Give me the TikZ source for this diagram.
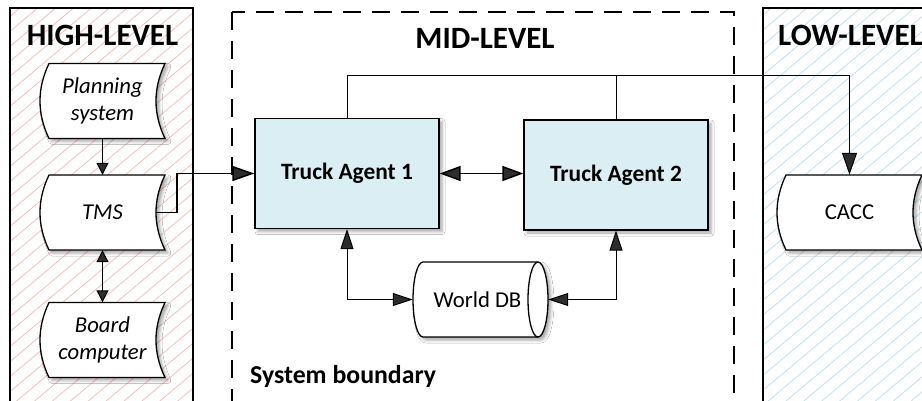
\documentclass[tikz,border=0pt]{standalone}
\usepackage{fontspec}
\setmainfont{Carlito}
\usetikzlibrary{arrows.meta,patterns.meta,shadows.blur,calc}
\definecolor{hatchred}{RGB}{242,192,192}
\definecolor{hatchblue}{RGB}{192,226,236}
\definecolor{agentfill}{RGB}{218,238,243}
% stored-data outline: centre x, centre y, half width, half height
\newcommand\sdpath[4]{%
  \draw[sdline] (#1-#3+9,#2-#4) -- (#1+#3,#2-#4)
    .. controls +(-12,25) and +(-12,-25) .. (#1+#3,#2+#4) -- (#1-#3+9,#2+#4)
    .. controls +(-12,-25) and +(-12,25) .. (#1-#3+9,#2-#4) -- cycle;}
\begin{document}
\begin{tikzpicture}[x=1pt,y=-1pt,
  sdline/.style={line width=1.3pt, fill=white,
    blur shadow={shadow xshift=3pt, shadow yshift=-3pt, shadow blur radius=3pt, shadow opacity=35}},
  sdnode/.style={minimum width=125pt, minimum height=75pt, inner sep=0pt, align=center,
    font=\fontsize{22.7}{27}\selectfont},
  agent/.style={draw, line width=1.3pt, fill=agentfill, minimum width=184pt, minimum height=110pt,
    inner sep=0pt, font=\fontsize{23.4}{28}\selectfont\bfseries,
    blur shadow={shadow xshift=3pt, shadow yshift=-3pt, shadow blur radius=3pt, shadow opacity=35}},
  heading/.style={font=\fontsize{31}{36}\selectfont\bfseries, inner sep=0pt},
  levelbox/.style={line width=1.3pt},
  hatch/.style={pattern={Lines[angle=40,distance=11.5pt,line width=0.8pt]}},
  smallhead/.style={-{Triangle[length=12pt,width=12pt]}},
  bothsmall/.style={{Triangle[length=12pt,width=12pt]}-{Triangle[length=12pt,width=12pt]}},
  bighead/.style={-{Triangle[length=22pt,width=15pt]}},
  bothbig/.style={{Triangle[length=21pt,width=15pt]}-{Triangle[length=21pt,width=15pt]}},
  dbboth/.style={{Triangle[length=20pt,width=13pt]}-{Triangle[length=20pt,width=13pt]}},
]
\useasboundingbox (0,0) rectangle (922,400);
\fill[white] (0,0) rectangle (922,400);

% level areas
\fill[hatch, pattern color=hatchred] (10,8) rectangle (193,420);
\draw[levelbox] (10,8) rectangle (193,420);
\fill[hatch, pattern color=hatchblue] (763,8) rectangle (940,420);
\draw[levelbox] (763,8) rectangle (940,420);
\draw[line width=1.5pt, dash pattern=on 18pt off 11pt] (232,12) rectangle (734,430);

\node[heading] (hl) at (102.5,35) {HIGH-LEVEL};
\node[heading] (ml) at (485,38) {MID-LEVEL};
\node[heading, anchor=west] (ll) at (778,35) {LOW-LEVEL};
\node[font=\fontsize{25.8}{30}\selectfont\bfseries, anchor=base west, inner sep=0pt] (sb) at (250,383) {System boundary};

% stored data shapes and nodes
\sdpath{102.5}{101}{62.5}{37.5}
\sdpath{102.5}{212.5}{62.5}{37.5}
\sdpath{102.5}{340}{62.5}{37.5}
\sdpath{849.5}{212.5}{72.5}{37.5}
\node[sdnode] (plan) at (102.5,101) {\itshape Planning\\\itshape system};
\node[sdnode] (tms) at (102.5,212.5) {\itshape TMS};
\node[sdnode] (board) at (102.5,340) {\itshape Board\\\itshape computer};
\node[sdnode, minimum width=145pt] (cacc) at (849.5,212.5) {CACC};

% agents
\node[agent] (ta1) at (347,173.5) {Truck Agent 1};
\node[agent] (ta2) at (616,175) {Truck Agent 2};

% world DB
\draw[sdline] (423,262) -- (538,262)
  arc[start angle=-90, end angle=90, x radius=10, y radius=37.5]
  -- (423,337)
  arc[start angle=90, end angle=270, x radius=10, y radius=37.5] -- cycle;
\draw[line width=1.3pt] (538,262) arc[start angle=270, end angle=90, x radius=10, y radius=37.5];
\node[minimum width=135pt, minimum height=75pt, inner sep=0pt, font=\fontsize{22.7}{27}\selectfont] (wdb) at (480.5,299.5) {\hspace*{-6pt}World DB};

% connectors
\draw[line width=1pt, smallhead] (plan) -- (tms);
\draw[line width=1pt, bothsmall] (tms) -- (board);
\draw[line width=1.5pt, bighead] ([xshift=-9pt]tms.east) -- ++(21,0) |- (ta1.west);
\draw[line width=1.5pt, bothbig] (ta1.east) -- (ta1.east -| ta2.west);
\coordinate (tp) at (347,75);
\draw[line width=1pt, bighead] (ta1.north) -- (ta1.north |- tp) -| (cacc.north);
\draw[line width=1pt] (ta2.north) -- (ta2.north |- tp);
\draw[line width=1pt, dbboth] (ta1.south) |- (wdb.west);
\draw[line width=1pt, dbboth] (ta2.south) |- (wdb.east);
\end{tikzpicture}
\end{document}
